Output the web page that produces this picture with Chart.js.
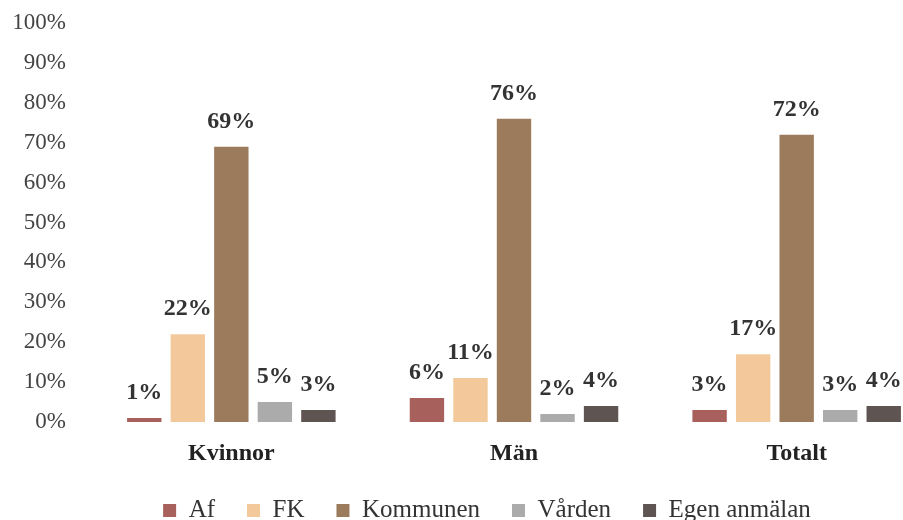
<!DOCTYPE html>
<html>
<head>
<meta charset="utf-8">
<script src="https://cdn.jsdelivr.net/npm/chart.js@4"></script>
<style>
  html, body { margin: 0; padding: 0; background: #fff; overflow: hidden; }
  #wrap { width: 945px; height: 520px; }
</style>
</head>
<body>
<div id="wrap"><canvas id="myChart"></canvas></div>
<script>
const categories = ['Kvinnor', 'Män', 'Totalt'];
const seriesNames = ['Af', 'FK', 'Kommunen', 'Vården', 'Egen anmälan'];
const afValues = [1, 6, 3];
const fkValues = [22, 11, 17];
const kommunenValues = [69, 76, 72];
const vardenValues = [5, 2, 3];
const egenValues = [3, 4, 4];
const yTicks = [0, 10, 20, 30, 40, 50, 60, 70, 80, 90, 100];

const colors = ['#a8605c', '#f3c99c', '#9c7b5c', '#ababab', '#5e5553'];
const serifFont = "'Liberation Serif', 'DejaVu Serif', serif";

// draws the bold percent label above each bar
const barLabels = {
    id: 'barLabels',
    afterDatasetsDraw(chart) {
        const ctx = chart.ctx;
        ctx.save();
        ctx.font = 'bold 24px ' + serifFont;
        ctx.fillStyle = '#333';
        ctx.textAlign = 'center';
        ctx.textBaseline = 'bottom';
        chart.data.datasets.forEach(function (ds, i) {
            chart.getDatasetMeta(i).data.forEach(function (bar, j) {
                ctx.fillText(ds.data[j] + '%', bar.x, bar.y - 13);
            });
        });
        ctx.restore();
    }
};

// legend padding is used both ways, take some height back
// and nudge the legend a bit to the right
const legendTweak = {
    id: 'legendTweak',
    beforeInit(chart) {
        const origFit = chart.legend.fit;
        chart.legend.fit = function () {
            origFit.bind(chart.legend)();
            this.height -= 13;
        };
    },
    afterLayout(chart) {
        chart.legend.left += 18;
        chart.legend.right += 18;
    }
};

const allSeries = [afValues, fkValues, kommunenValues, vardenValues, egenValues];

const ctx = document.getElementById('myChart').getContext('2d');
const myChart = new Chart(ctx, {
    type: 'bar',
    data: {
        labels: categories,
        datasets: allSeries.map(function (vals, i) {
            return {
                label: seriesNames[i],
                data: vals,
                backgroundColor: colors[i],
                categoryPercentage: 0.77,
                barPercentage: 0.79
            };
        })
    },
    plugins: [barLabels, legendTweak],
    options: {
        responsive: true,
        maintainAspectRatio: false,
        animation: false,
        layout: {
            padding: { top: 23, right: 7, left: 0, bottom: 0 }
        },
        scales: {
            x: {
                afterFit: function (scale) { scale.height = 44; },
                grid: { display: false },
                border: { display: false },
                ticks: {
                    color: '#222',
                    padding: 9,
                    font: { family: serifFont, size: 24, weight: 'bold' }
                }
            },
            y: {
                min: 0,
                max: 100,
                afterFit: function (scale) {
                    scale.width = 90;
                    scale.paddingTop = 0;
                    scale.paddingBottom = 0;
                },
                afterBuildTicks: function (scale) {
                    scale.ticks = yTicks.map(function (v) { return { value: v }; });
                },
                grid: { display: false },
                border: { display: false },
                ticks: {
                    color: '#444',
                    padding: 16,
                    font: { family: serifFont, size: 23 },
                    callback: function (v) { return v + '%'; }
                }
            }
        },
        plugins: {
            legend: {
                position: 'bottom',
                labels: {
                    color: '#333',
                    boxWidth: 13,
                    boxHeight: 13,
                    padding: 32,
                    font: { family: serifFont, size: 25 }
                }
            },
            tooltip: { enabled: false }
        }
    }
});
</script>
</body>
</html>
